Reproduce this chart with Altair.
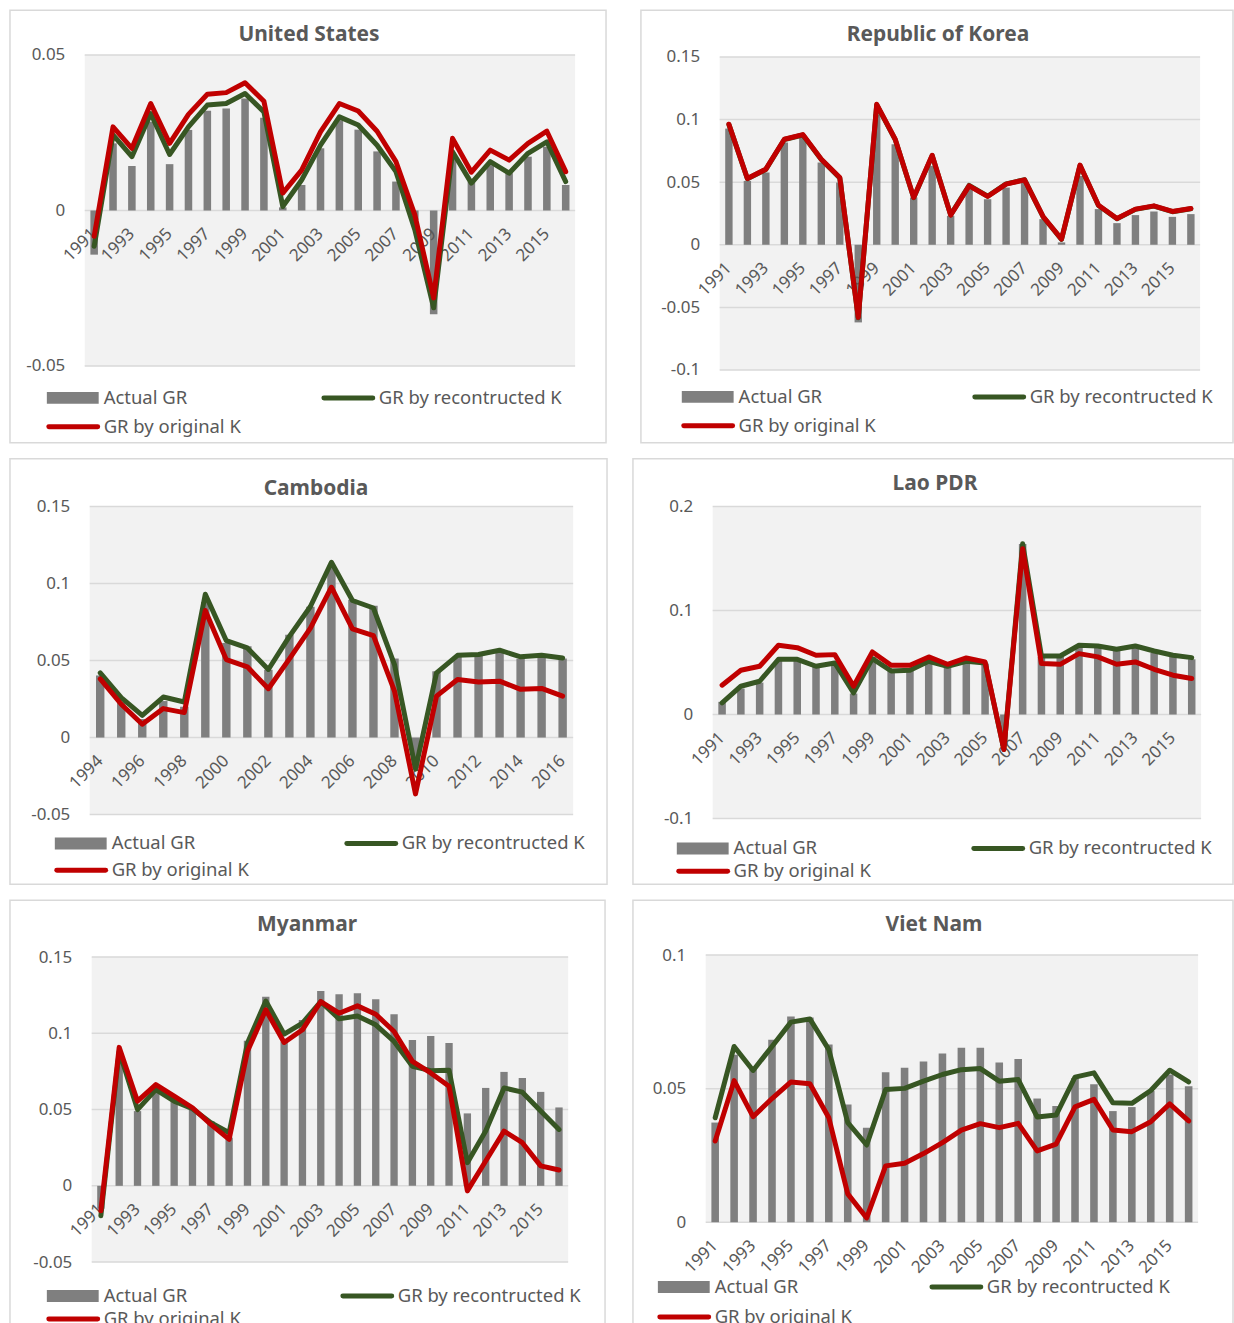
import altair as alt
import pandas as pd

# ---------------------------------------------------------------- data
YEARS_A = [str(y) for y in range(1991, 2017)]
YEARS_B = [str(y) for y in range(1994, 2017)]
LABELS_A = YEARS_A[::2]
LABELS_B = YEARS_B[::2]

COUNTRIES = ["United States", "Republic of Korea", "Cambodia", "Lao PDR", "Myanmar", "Viet Nam"]
LEGEND_LABELS = ["Actual GR", "GR by recontructed K", "GR by original K"]

us_actual = [-0.0142, 0.0216, 0.0143, 0.0285, 0.0149, 0.0259, 0.0321, 0.0328, 0.0360, 0.0298, 0.0010, 0.0082, 0.0200,
             0.0290, 0.0260, 0.0190, 0.0093, -0.0030, -0.0334, 0.0180, 0.0093, 0.0146, 0.0120, 0.0173, 0.0205, 0.0082]
us_recon = [-0.0115, 0.0243, 0.0173, 0.0312, 0.0180, 0.0269, 0.0339, 0.0344, 0.0376, 0.0317, 0.0013, 0.0098, 0.0210,
            0.0301, 0.0275, 0.0210, 0.0125, -0.0062, -0.0313, 0.0189, 0.0088, 0.0157, 0.0120, 0.0184, 0.0221, 0.0093]
us_orig = [-0.0083, 0.0269, 0.0200, 0.0344, 0.0216, 0.0309, 0.0374, 0.0379, 0.0411, 0.0351, 0.0056, 0.0130, 0.0253,
           0.0344, 0.0320, 0.0255, 0.0157, -0.0014, -0.0281, 0.0232, 0.0123, 0.0194, 0.0162, 0.0216, 0.0255, 0.0125]

kor_actual = [0.0928, 0.0510, 0.0577, 0.0817, 0.0856, 0.0657, 0.0497, -0.0620, 0.1040, 0.0803, 0.0378, 0.0630, 0.0231,
              0.0444, 0.0364, 0.0457, 0.0497, 0.0205, 0.0019, 0.0550, 0.0285, 0.0173, 0.0237, 0.0266, 0.0223, 0.0245]
kor_recon = [0.0960, 0.0527, 0.0602, 0.0841, 0.0877, 0.0681, 0.0534, -0.0583, 0.1118, 0.0840, 0.0376, 0.0712, 0.0239,
             0.0475, 0.0388, 0.0486, 0.0520, 0.0224, 0.0043, 0.0633, 0.0314, 0.0208, 0.0283, 0.0309, 0.0264, 0.0288]
kor_orig = [0.0963, 0.0529, 0.0604, 0.0843, 0.0880, 0.0684, 0.0537, -0.0580, 0.1122, 0.0843, 0.0378, 0.0715, 0.0237,
            0.0471, 0.0386, 0.0484, 0.0519, 0.0226, 0.0045, 0.0636, 0.0316, 0.0210, 0.0285, 0.0311, 0.0266, 0.0290]

khm_actual = [0.0403, 0.0230, 0.0120, 0.0237, 0.0200, 0.0880, 0.0614, 0.0593, 0.0440, 0.0668, 0.0850, 0.1110,
              0.0894, 0.0856, 0.0513, -0.0200, 0.0430, 0.0528, 0.0539, 0.0554, 0.0511, 0.0528, 0.0513]
khm_recon = [0.0420, 0.0259, 0.0144, 0.0263, 0.0231, 0.0931, 0.0629, 0.0582, 0.0442, 0.0657, 0.0851, 0.1138,
             0.0890, 0.0841, 0.0474, -0.0205, 0.0420, 0.0534, 0.0539, 0.0567, 0.0524, 0.0534, 0.0517]
khm_orig = [0.0381, 0.0216, 0.0086, 0.0188, 0.0162, 0.0825, 0.0506, 0.0459, 0.0317, 0.0511, 0.0711, 0.0976,
            0.0705, 0.0662, 0.0302, -0.0366, 0.0269, 0.0377, 0.0360, 0.0366, 0.0313, 0.0319, 0.0269]

lao_actual = [0.0122, 0.0250, 0.0307, 0.0520, 0.0520, 0.0458, 0.0490, 0.0202, 0.0554, 0.0426, 0.0426, 0.0506, 0.0458,
              0.0506, 0.0490, -0.0300, 0.1640, 0.0554, 0.0554, 0.0650, 0.0650, 0.0618, 0.0650, 0.0592, 0.0554, 0.0531]
lao_recon = [0.0112, 0.0272, 0.0320, 0.0531, 0.0531, 0.0464, 0.0496, 0.0208, 0.0538, 0.0419, 0.0426, 0.0512, 0.0464,
             0.0512, 0.0496, -0.0336, 0.1642, 0.0563, 0.0563, 0.0666, 0.0659, 0.0627, 0.0659, 0.0611, 0.0570, 0.0547]
lao_orig = [0.0282, 0.0426, 0.0464, 0.0666, 0.0643, 0.0570, 0.0576, 0.0272, 0.0602, 0.0474, 0.0474, 0.0554, 0.0483,
            0.0544, 0.0506, -0.0336, 0.1594, 0.0490, 0.0483, 0.0586, 0.0554, 0.0483, 0.0506, 0.0435, 0.0378, 0.0346]

mmr_actual = [-0.0150, 0.0820, 0.0490, 0.0620, 0.0555, 0.0500, 0.0424, 0.0316, 0.0951, 0.1240, 0.0947, 0.1088, 0.1278,
              0.1256, 0.1263, 0.1223, 0.1125, 0.0956, 0.0982, 0.0936, 0.0475, 0.0642, 0.0747, 0.0707, 0.0616, 0.0514]
mmr_recon = [-0.0196, 0.0882, 0.0500, 0.0631, 0.0555, 0.0505, 0.0414, 0.0348, 0.0936, 0.1212, 0.0995, 0.1067, 0.1208,
             0.1095, 0.1114, 0.1056, 0.0947, 0.0784, 0.0755, 0.0758, 0.0152, 0.0359, 0.0642, 0.0614, 0.0490, 0.0370]
mmr_orig = [-0.0163, 0.0908, 0.0555, 0.0664, 0.0588, 0.0512, 0.0403, 0.0305, 0.0882, 0.1154, 0.0940, 0.1023, 0.1208,
            0.1132, 0.1180, 0.1125, 0.1012, 0.0816, 0.0740, 0.0653, -0.0033, 0.0163, 0.0359, 0.0283, 0.0131, 0.0104]

vnm_actual = [0.0373, 0.0627, 0.0578, 0.0683, 0.0770, 0.0766, 0.0665, 0.0441, 0.0354, 0.0561, 0.0578, 0.0602, 0.0632,
              0.0653, 0.0653, 0.0598, 0.0611, 0.0463, 0.0435, 0.0540, 0.0516, 0.0416, 0.0431, 0.0491, 0.0553, 0.0509]
vnm_recon = [0.0391, 0.0658, 0.0568, 0.0658, 0.0749, 0.0761, 0.0646, 0.0373, 0.0289, 0.0497, 0.0501, 0.0528, 0.0553,
             0.0571, 0.0575, 0.0528, 0.0534, 0.0394, 0.0401, 0.0543, 0.0559, 0.0447, 0.0445, 0.0493, 0.0569, 0.0525]
vnm_orig = [0.0304, 0.0530, 0.0395, 0.0463, 0.0525, 0.0518, 0.0391, 0.0106, 0.0016, 0.0211, 0.0221, 0.0257, 0.0298,
            0.0345, 0.0369, 0.0354, 0.0370, 0.0267, 0.0292, 0.0432, 0.0460, 0.0345, 0.0339, 0.0376, 0.0443, 0.0379]

# ---------------------------------------------------------------- style
FONT = "Noto Sans"
TEXT = "#595959"
GRID = "#d9d9d9"
PLOT_BG = "#f2f2f2"
BAR = "#7f7f7f"
GREEN = "#375623"
RED = "#c00000"
TICK_FS = 17
LEG_FS = 18.5
TITLE_FS = 21


def panel(name, years, xlabels, actual, recon, orig, ydom, yticks,
          size, plot, title_xy, legend):
    """One framed panel; the view is the whole frame, the plot sits inside it."""
    fw, fh = size
    px0, py0, px1, py1 = plot
    df = pd.DataFrame({"year": years, "actual": actual, "recon": recon, "orig": orig})
    ticks = pd.DataFrame({"v": yticks})
    cats = pd.DataFrame({"year": xlabels})
    y_zero = py0 + (py1 - py0) * ydom[1] / (ydom[1] - ydom[0])

    xs = alt.Scale(domain=years, range=[px0, px1], paddingInner=0.6, paddingOuter=0.3)
    ys = alt.Scale(domain=ydom, range=[py1, py0], nice=False, zero=False)
    ya = alt.Axis(values=yticks, title=None, ticks=False, tickSize=0, domain=False, grid=False,
                  offset=-px0, labelPadding=20, labelFontSize=TICK_FS, labelColor=TEXT, labelFont=FONT,
                  labelOverlap=False, labelBound=False, labelExpr="'' + datum.value")

    one = pd.DataFrame({"k": [0]})
    background = alt.Chart(one).mark_rect(color=PLOT_BG).encode(
        x=alt.value(px0), x2=alt.value(px1), y=alt.value(py0), y2=alt.value(py1))

    grid = alt.Chart(ticks).mark_rule(color=GRID, strokeWidth=1.5).encode(
        y=alt.Y("v:Q", scale=ys, axis=ya), x=alt.value(px0), x2=alt.value(px1))

    base = alt.Chart(df)
    bars = base.mark_bar(color=BAR).encode(
        x=alt.X("year:N", scale=xs, axis=None, sort=years),
        y=alt.Y("actual:Q", scale=ys, axis=ya),
        y2=alt.datum(0),
    )

    # category labels hang below the zero line, rotated like the spreadsheet axis
    year_labels = alt.Chart(cats).mark_text(font=FONT, fontSize=TICK_FS, color=TEXT, angle=315,
                                            align="right", baseline="middle").encode(
        x=alt.X("year:N", scale=xs, axis=None, sort=years, bandPosition=0.5),
        y=alt.value(y_zero + 21),
        text="year:N",
    )

    def series(field, color):
        return base.mark_line(color=color, strokeWidth=5, strokeJoin="round", strokeCap="round").encode(
            x=alt.X("year:N", scale=xs, axis=None, sort=years, bandPosition=0.5),
            y=alt.Y(f"{field}:Q", scale=ys, axis=ya),
        )

    title = alt.Chart(one).mark_text(font=FONT, fontSize=TITLE_FS, fontWeight="bold", color=TEXT,
                                     align="center", baseline="middle").encode(
        x=alt.value(title_xy[0]), y=alt.value(title_xy[1]), text=alt.value(name))

    gx, cx, r1, r2 = legend
    sw = 53
    leg_bar = alt.Chart(one).mark_rect(color=BAR).encode(
        x=alt.value(gx), x2=alt.value(gx + sw - 1), y=alt.value(r1 - 6), y2=alt.value(r1 + 6))
    leg_green = alt.Chart(one).mark_rule(color=GREEN, strokeWidth=5, strokeCap="round").encode(
        x=alt.value(cx + 2), x2=alt.value(cx + sw - 2), y=alt.value(r1))
    leg_red = alt.Chart(one).mark_rule(color=RED, strokeWidth=5, strokeCap="round").encode(
        x=alt.value(gx + 2), x2=alt.value(gx + sw - 2), y=alt.value(r2))

    def label(x, y, s):
        return alt.Chart(one).mark_text(font=FONT, fontSize=LEG_FS, color=TEXT, align="left",
                                        baseline="middle").encode(
            x=alt.value(x), y=alt.value(y), text=alt.value(s))

    texts = [label(gx + sw + 4, r1, LEGEND_LABELS[0]),
             label(cx + sw + 4, r1, LEGEND_LABELS[1]),
             label(gx + sw + 4, r2, LEGEND_LABELS[2])]

    return alt.layer(background, grid, bars, year_labels, series("recon", GREEN), series("orig", RED),
                     title, leg_bar, leg_green, leg_red, *texts).properties(width=fw, height=fh)


us = panel(COUNTRIES[0], YEARS_A, LABELS_A, us_actual, us_recon, us_orig,
           [-0.05, 0.05], [-0.05, 0, 0.05], (598, 434), (75, 45, 567, 357),
           (300, 25), (37, 313, 389, 418))
kor = panel(COUNTRIES[1], YEARS_A, LABELS_A, kor_actual, kor_recon, kor_orig,
            [-0.1, 0.15], [-0.1, -0.05, 0, 0.05, 0.1, 0.15], (594, 434), (79, 47, 561, 361),
            (298, 25), (41, 333, 388, 417))
khm = panel(COUNTRIES[2], YEARS_B, LABELS_B, khm_actual, khm_recon, khm_orig,
            [-0.05, 0.15], [-0.05, 0, 0.05, 0.1, 0.15], (599, 427), (80, 48, 565, 357),
            (307, 30), (45, 336, 386, 413))
lao = panel(COUNTRIES[3], YEARS_A, LABELS_A, lao_actual, lao_recon, lao_orig,
            [-0.1, 0.2], [-0.1, 0, 0.1, 0.2], (602, 427), (80, 48, 570, 361),
            (303, 25), (44, 340, 391, 414))
mmr = panel(COUNTRIES[4], YEARS_A, LABELS_A, mmr_actual, mmr_recon, mmr_orig,
            [-0.05, 0.15], [-0.05, 0, 0.05, 0.1, 0.15], (597, 440), (82, 57, 560, 363),
            (298, 25), (37, 332, 397, 420))
vnm = panel(COUNTRIES[5], YEARS_A, LABELS_A, vnm_actual, vnm_recon, vnm_orig,
            [0, 0.1], [0, 0.05, 0.1], (602, 440), (73, 55, 567, 323),
            (302, 25), (25, 298, 388, 418))

chart = alt.vconcat(
    alt.hconcat(us, kor, spacing=33),
    alt.hconcat(khm, lao, spacing=24),
    alt.hconcat(mmr, vnm, spacing=26),
    spacing=14,
).properties(
    padding={"left": 9, "top": 7, "right": 0, "bottom": 0},
    background="white",
).configure_view(fill="white", stroke=GRID, strokeWidth=1.5)

chart.save("out.html", embed_options={"renderer": "svg", "actions": False})
